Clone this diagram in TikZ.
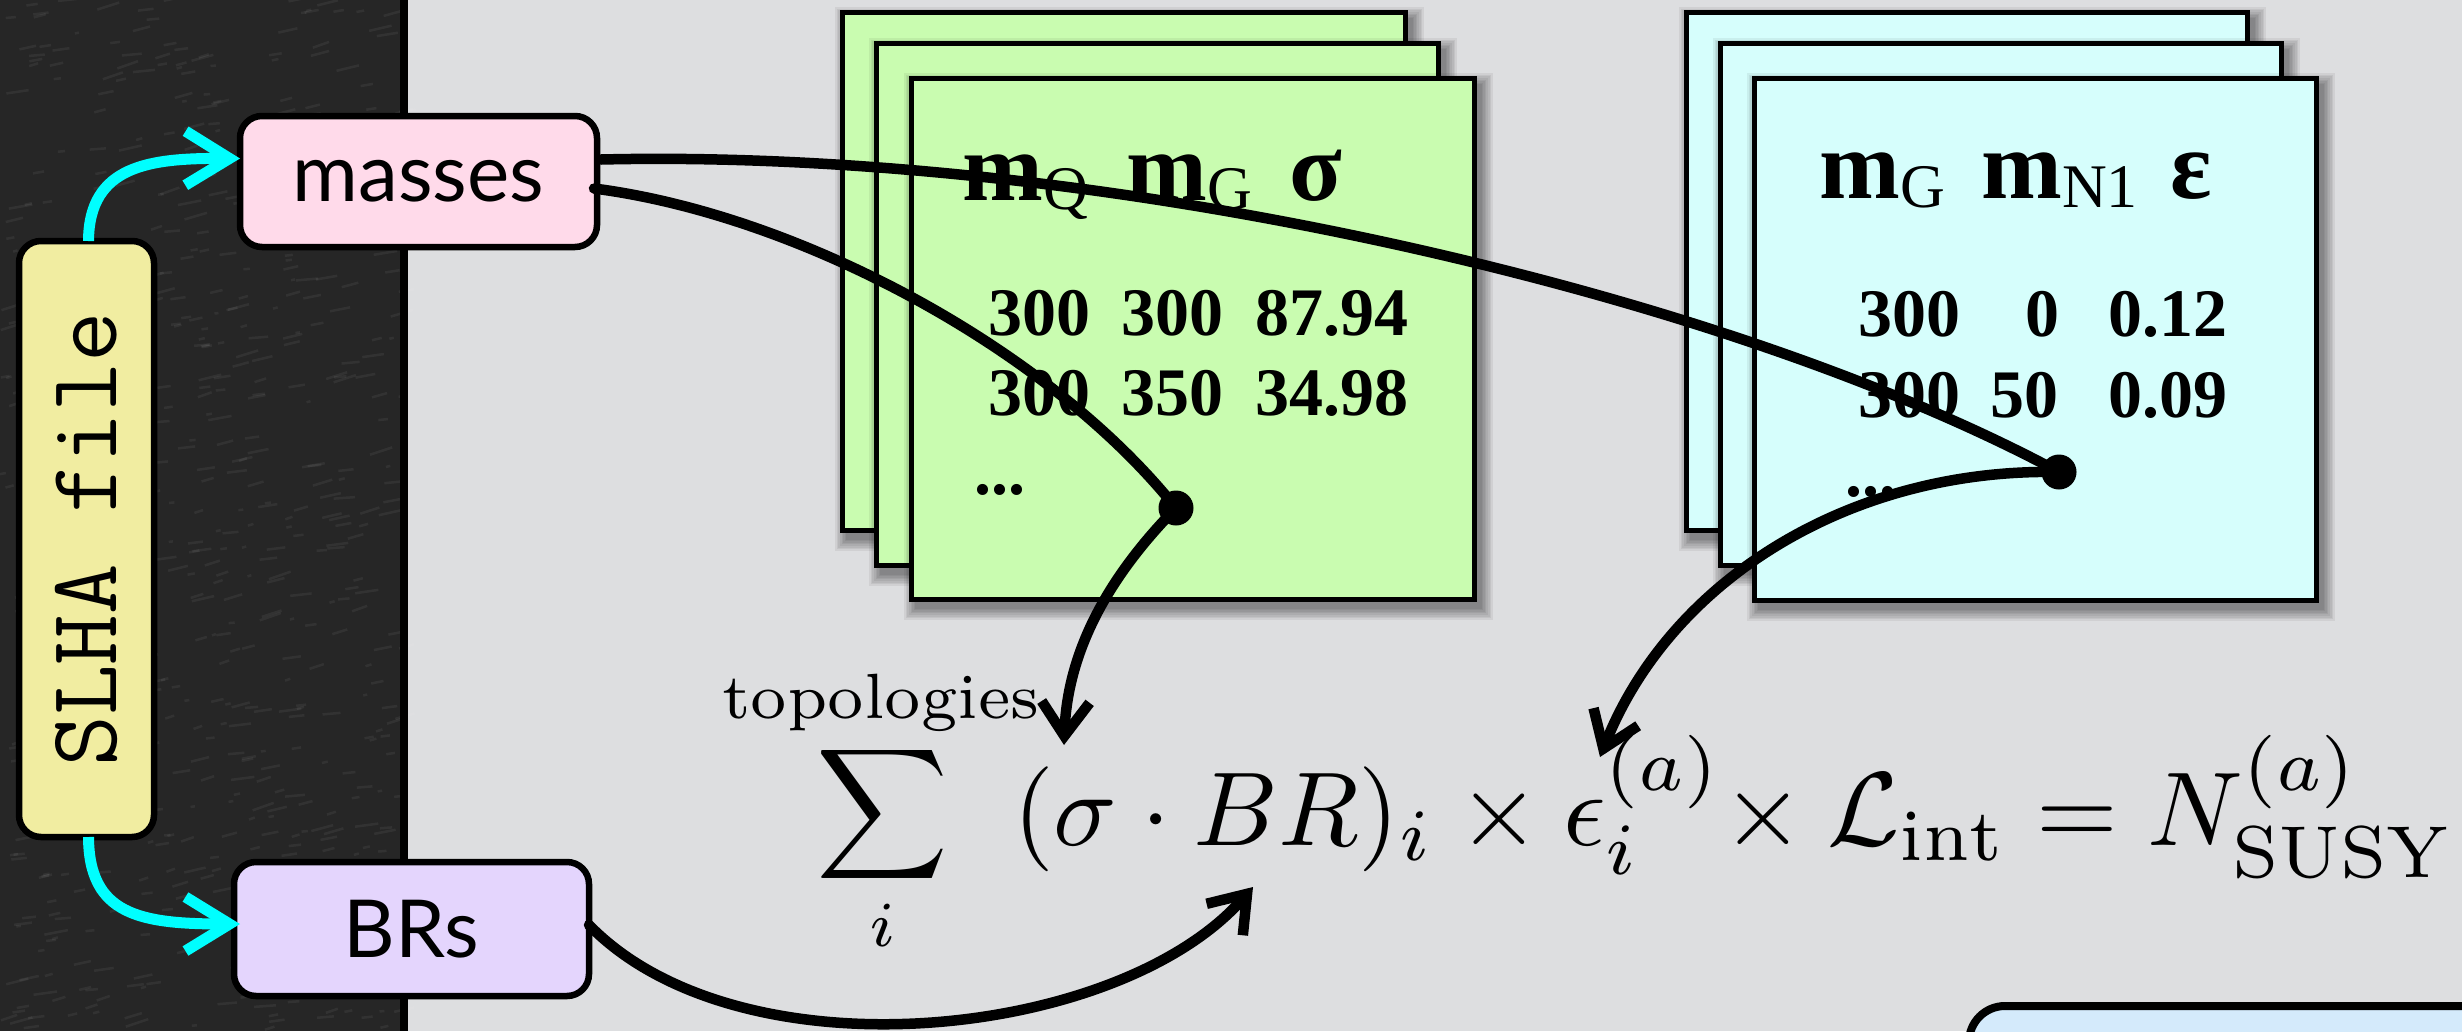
\documentclass[tikz,border=0pt]{standalone}
\usepackage{fontspec}
\usepackage{graphicx}
\usetikzlibrary{arrows.meta,calc}
\newfontfamily\labelfont{Lato}
\newfontfamily\tabfont{Liberation Serif}
\definecolor{bggray}{HTML}{DDDEE0}
\definecolor{darkpanel}{HTML}{262626}
\definecolor{pinkbox}{HTML}{FFDAEA}
\definecolor{lavbox}{HTML}{E4D5FD}
\definecolor{yellowbox}{HTML}{F1EDA1}
\definecolor{greensheet}{HTML}{C9FCB0}
\definecolor{cyansheet}{HTML}{D6FEFC}
\definecolor{bluebox}{HTML}{D4EAFB}
\definecolor{cyanline}{HTML}{00FFFF}
\newcommand{\softshadow}[4]{%
  \foreach \k in {1,...,8}{%
    \fill[black,opacity=0.06] ({#1+6-\k*1.6},{#2+8-\k*1.6}) rectangle ({#3+6+\k*1.6},{#4+8+\k*1.6});
  }}
\newcommand{\subtxt}[1]{\raisebox{-9pt}{\mdseries\fontsize{62}{64}\selectfont #1}}
\begin{document}
\begin{tikzpicture}[x=1pt,y=-1pt,
  box/.style={draw=black,line width=6.5pt,rounded corners=22pt,inner sep=0pt,outer sep=0pt,
    font=\labelfont\fontsize{80}{90}\selectfont},
  sheet/.style={draw=black,line width=5pt},
  wire/.style={draw=black,line width=10.5pt,line cap=round},
  tipbarb/.style={-{Straight Barb[length=34pt,width=48pt]}},
  cyanarr/.style={draw=cyanline,line width=11pt,-{Straight Barb[length=44pt,width=54pt]}},
  hdr/.style={anchor=base west,inner sep=0pt,font=\tabfont\bfseries\fontsize{97}{100}\selectfont},
  cell/.style={anchor=base west,inner sep=0pt,font=\tabfont\bfseries\fontsize{68}{75}\selectfont},
  dotmark/.style={circle,fill=black,inner sep=0pt,minimum size=35pt},
  matheq/.style={inner sep=0pt,scale=10.5,font=\fontsize{10}{12}\selectfont},
  mathsum/.style={inner sep=0pt,scale=9.14,font=\fontsize{10}{12}\selectfont},
]
\useasboundingbox (0,0) rectangle (2462,1031);
\clip (0,0) rectangle (2462,1031);
% background
\fill[bggray] (0,0) rectangle (2462,1031);
\fill[darkpanel] (0,0) rectangle (400,1031);
% subtle fabric texture of the dark panel
\pgfmathsetseed{4242}
\foreach \i in {1,...,650}{%
  \pgfmathsetmacro{\px}{200+200*rand}
  \pgfmathsetmacro{\py}{515+515*rand}
  \pgfmathsetmacro{\pl}{14+10*rand}
  \pgfmathsetmacro{\pa}{-12+8*rand}
  \draw[white,opacity=0.06,line width=2.5pt] (\px,\py) -- ++(\pa:\pl);
}
\draw[black,line width=8pt] (404,0) -- (404,1031);

% green sheets
\softshadow{842}{12}{1405}{530}
\draw[sheet,fill=greensheet] (842,12) rectangle (1405,530);
\softshadow{876}{43}{1438}{565}
\draw[sheet,fill=greensheet] (876,43) rectangle (1438,565);
\softshadow{911}{78}{1474}{599}
\draw[sheet,fill=greensheet] (911,78) rectangle (1474,599);
\node[hdr] (gh1) at (962,200) {m\subtxt{Q}};
\node[hdr] (gh2) at (1126,200) {m\subtxt{G}};
\node[hdr] (gh3) at (1289,200) {σ};
\node[cell] (g11) at (988,335) {300};
\node[cell] (g12) at (1121,335) {300};
\node[cell] (g13) at (1255,335) {87.94};
\node[cell] (g21) at (988,415) {300};
\node[cell] (g22) at (1121,415) {350};
\node[cell] (g23) at (1255,415) {34.98};
\node[cell] (g31) at (974,494) {...};

% cyan sheets
\softshadow{1686}{12}{2247}{530}
\draw[sheet,fill=cyansheet] (1686,12) rectangle (2247,530);
\softshadow{1720}{43}{2281}{565}
\draw[sheet,fill=cyansheet] (1720,43) rectangle (2281,565);
\softshadow{1754}{78}{2316}{600}
\draw[sheet,fill=cyansheet] (1754,78) rectangle (2316,600);
\node[hdr] (ch1) at (1819,198) {m\subtxt{G}};
\node[hdr] (ch2) at (1981,198) {m\subtxt{N1}};
\node[hdr] (ch3) at (2170,198) {ε};
\node[cell] (c11) at (1858,336) {300};
\node[cell] (c12) at (2025,336) {0};
\node[cell] (c13) at (2108,336) {0.12};
\node[cell] (c21) at (1858,417) {300};
\node[cell] (c22) at (1990,417) {50};
\node[cell] (c23) at (2108,417) {0.09};
\node[cell] (c31) at (1845,496) {...};

% bottom right box
\draw[line width=8pt,fill=bluebox,rounded corners=36pt] (1969,1006) rectangle (2600,1200);

% boxes
\node[box,fill=pinkbox,minimum width=357pt,minimum height=131pt] (masses) at (418.5,181.5) {masses};
\node[box,fill=lavbox,minimum width=355pt,minimum height=134pt] (brs) at (411.5,929) {BRs};
\node[box,fill=yellowbox,minimum width=135pt,minimum height=596pt] (slha) at (86.5,539)
  {\rotatebox{90}{\ttfamily\fontsize{98}{98}\selectfont SLHA file}};

% equation
\node[mathsum,anchor=base] (topo) at (881,718) {$\scriptstyle\mathrm{topologies}$};
\node[mathsum] (sum) at (882,814) {$\displaystyle\sum$};
\node[mathsum,anchor=base] (sumi) at (882,946) {$\scriptstyle i$};
\node[matheq,anchor=base west] (eq) at (1011,845)
  {$(\sigma\cdot BR)_i\times\epsilon_i^{(a)}\mskip-4mu\times\mathcal{L}_{\rm int}=N^{(a)}_{\rm SUSY}$};

% named points
\coordinate (gdot) at (1176,508);
\coordinate (cdot) at (2059,472);
\coordinate (sumin) at (1064,745);
\coordinate (epsin) at (1600,757);
\coordinate (brin) at (1253,887);
\coordinate (m1) at ($(masses.east)+(4,-22)$);
\coordinate (m2) at ($(masses.east)+(-3,7)$);
\coordinate (b1) at ($(brs.east)+(0,-4)$);
\coordinate (mtip) at ($(masses.west)+(0,-23)$);
\coordinate (btip) at ($(brs.west)+(6,-5)$);
\coordinate (s1) at ($(slha.north)+(2,0)$);
\coordinate (s2) at ($(slha.south)+(2,0)$);

% connectors
\draw[wire] (m1) .. controls (1100,148) and (1720,290) .. (cdot);
\draw[wire] (m2) .. controls (800,215) and (1050,350) .. (gdot);
\draw[wire,tipbarb] (gdot) .. controls (1120,565) and (1068,640) .. (sumin);
\draw[wire,tipbarb] (cdot) .. controls (1850,468) and (1670,580) .. (epsin);
\draw[wire,tipbarb] (b1) .. controls (740,1080) and (1120,1040) .. (brin);
\node[dotmark] (gd) at (gdot) {};
\node[dotmark] (cd) at (cdot) {};

% cyan arrows
\draw[cyanarr] (s1) .. controls (89,165) and (150,158) .. (mtip);
\draw[cyanarr] (s2) .. controls (89,915) and (140,924) .. (btip);
\end{tikzpicture}
\end{document}
